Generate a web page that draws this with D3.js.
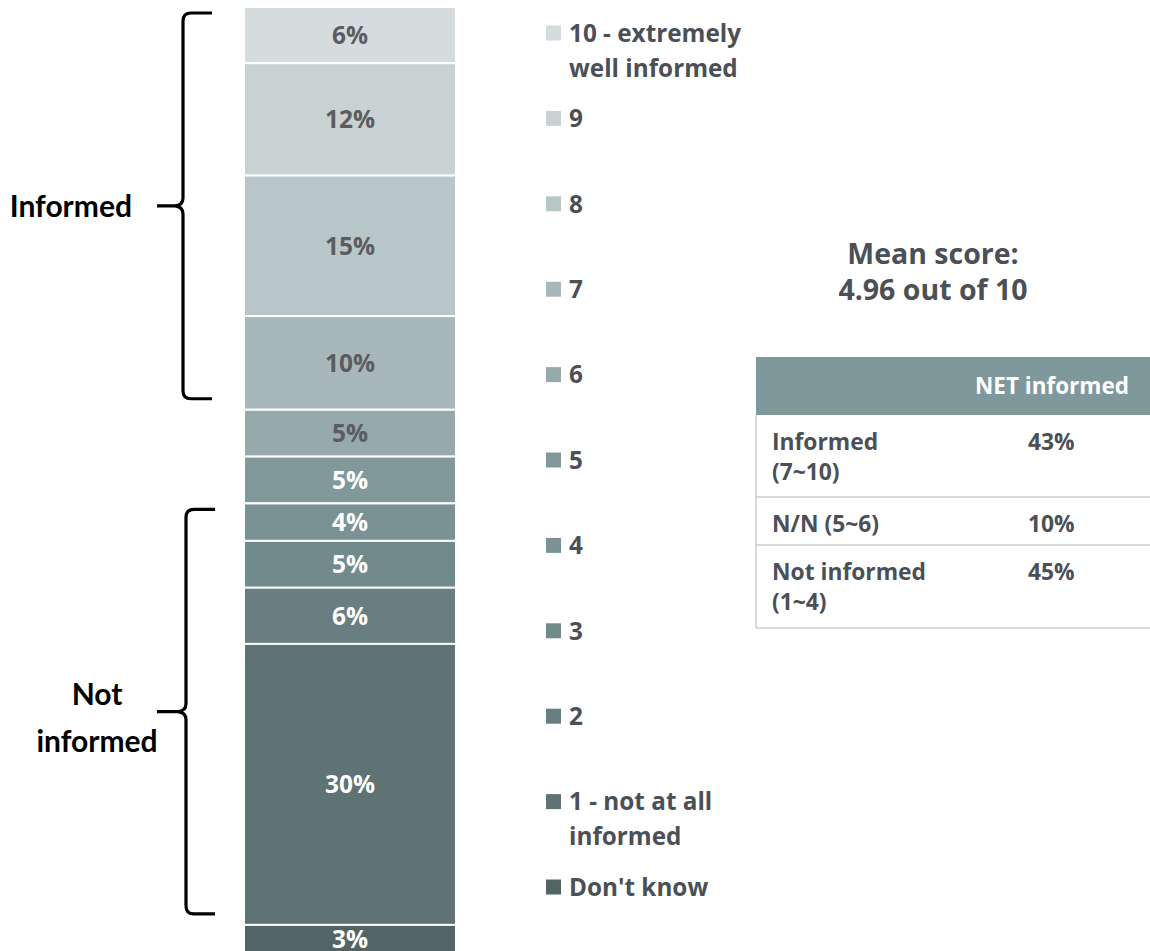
<!DOCTYPE html>
<html>
<head>
<meta charset="utf-8">
<script src="https://cdn.jsdelivr.net/npm/d3@7"></script>
<style>
  html, body { margin: 0; padding: 0; background: #ffffff; }
  svg { display: block; font-family: "Open Sans", "Noto Sans", sans-serif; font-weight: 700; }
  .brace-label { font-family: "Lato", "Open Sans", sans-serif; font-weight: 700; }
</style>
</head>
<body>
<svg id="chart" width="1150" height="951"></svg>
<script>
// Rating scale answers, top of the stack first
const categories = ["10", "9", "8", "7", "6", "5", "4", "3", "2", "1", "Don't know"];
const legendLabels = [
  ["10 - extremely", "well informed"], ["9"], ["8"], ["7"], ["6"], ["5"],
  ["4"], ["3"], ["2"], ["1 - not at all", "informed"], ["Don't know"]
];
const shares = [6, 12, 15, 10, 5, 5, 4, 5, 6, 30, 3];
const segmentColors = ["#d6dcde", "#c9d2d3", "#b9c6c7", "#a8b8ba", "#96aaac",
                       "#81999b", "#7a9294", "#718a8c", "#687e80", "#5f7374", "#536465"];
const darkLabelCount = 5; // the five lightest segments use dark label text

// Bracket groups (by category)
const groups = [
  { name: ["Informed"], from: "10", to: "7" },
  { name: ["Not", "informed"], from: "4", to: "1" }
];

// NET summary table
const netHeader = "NET informed";
const netRows = [["Informed", "(7~10)"], ["N/N (5~6)"], ["Not informed", "(1~4)"]];
const netValues = [43, 10, 45];
const meanScore = 4.96;
const scaleMax = 10;

const svg = d3.select("#chart");
const textDark = "#4b5057";

// Stack from the bottom ("Don't know") upward
const total = d3.sum(shares);
const n = shares.length;
const starts = new Array(n);
let acc = 0;
for (let i = n - 1; i >= 0; i--) { starts[i] = acc; acc += shares[i]; }
const segs = categories.map((c, i) => ({ cat: c, v: shares[i], y0: starts[i], y1: starts[i] + shares[i], i }));

const y = d3.scaleLinear().domain([0, total]).range([953, 7]);
const x = d3.scaleBand().domain(["all"]).range([244, 456]).padding(0);

// Bar segments
const bar = svg.append("g");
bar.selectAll("rect").data(segs).join("rect")
  .attr("x", x("all"))
  .attr("width", x.bandwidth())
  .attr("y", d => y(d.y1))
  .attr("height", d => y(d.y0) - y(d.y1))
  .attr("fill", d => segmentColors[d.i])
  .attr("stroke", "#ffffff")
  .attr("stroke-width", 2);

bar.selectAll("text").data(segs).join("text")
  .attr("x", x("all") + x.bandwidth() / 2)
  .attr("y", d => (y(d.y0) + y(d.y1)) / 2)
  .attr("dy", "0.36em")
  .attr("text-anchor", "middle")
  .attr("font-size", 24.5)
  .attr("fill", d => d.i < darkLabelCount ? "#5c5c5e" : "#ffffff")
  .text(d => d.v + "%");

// Legend
const legendStep = 85.4;
const legend = svg.append("g");
const items = legend.selectAll("g").data(categories).join("g")
  .attr("transform", (d, i) => `translate(546, ${33 + i * legendStep})`);
items.append("rect")
  .attr("x", 0).attr("y", -7.5).attr("width", 15).attr("height", 15)
  .attr("fill", (d, i) => segmentColors[i]);
items.append("text")
  .attr("x", 23)
  .attr("font-size", 24.3)
  .attr("fill", textDark)
  .each(function (d, i) {
    const t = d3.select(this);
    legendLabels[i].forEach((line, k) => {
      t.append("tspan").attr("x", 23).attr("y", k * 35).attr("dy", "0.36em").text(line);
    });
  });

// Curly brackets with group labels
function bracePath(xv, top, bottom, tipX) {
  const mid = (top + bottom) / 2;
  const p = d3.path();
  p.moveTo(xv + 29, top);
  p.lineTo(xv + 8, top);
  p.quadraticCurveTo(xv, top, xv, top + 8);
  p.lineTo(xv, mid - 8);
  p.quadraticCurveTo(xv, mid - 1, xv - 8, mid);
  p.lineTo(tipX, mid);
  p.moveTo(xv - 8, mid);
  p.quadraticCurveTo(xv, mid + 1, xv, mid + 8);
  p.lineTo(xv, bottom - 8);
  p.quadraticCurveTo(xv, bottom, xv + 8, bottom);
  p.lineTo(xv + 29, bottom);
  return p.toString();
}
const brackets = svg.append("g");
groups.forEach((g, gi) => {
  const a = segs.find(s => s.cat === g.from);
  const b = segs.find(s => s.cat === g.to);
  const top = y(a.y1) + 6;
  const bottom = y(b.y0) - 11;
  const xv = gi === 0 ? 183 : 186;
  brackets.append("path")
    .attr("d", bracePath(xv, top, bottom, 157))
    .attr("fill", "none")
    .attr("stroke", "#000000")
    .attr("stroke-width", 3.2)
    .attr("stroke-linejoin", "round");
  const mid = (top + bottom) / 2;
  const lbl = brackets.append("text")
    .attr("class", "brace-label")
    .attr("font-size", 30)
    .attr("fill", "#000000");
  if (g.name.length === 1) {
    lbl.attr("text-anchor", "end")
      .append("tspan").attr("x", 132).attr("y", mid).attr("dy", "0.36em").text(g.name[0]);
  } else {
    lbl.attr("text-anchor", "middle");
    g.name.forEach((line, k) => {
      lbl.append("tspan").attr("x", 97).attr("y", mid - 17 + k * 47).attr("dy", "0.36em").text(line);
    });
  }
});

// Mean score
const mean = svg.append("text")
  .attr("text-anchor", "middle")
  .attr("font-size", 28.5)
  .attr("fill", textDark);
mean.append("tspan").attr("x", 933).attr("y", 254).attr("dy", "0.36em").text("Mean score:");
mean.append("tspan").attr("x", 933).attr("y", 290).attr("dy", "0.36em").text(`${meanScore.toFixed(2)} out of ${scaleMax}`);

// NET table
const table = svg.append("g");
const tLeft = 756, tRight = 1150, headTop = 357, headBottom = 415;
const rowEdges = [headBottom, 497, 545, 628];
const lineCol = "#c6d0d2";
table.append("rect")
  .attr("x", tLeft).attr("y", headTop)
  .attr("width", tRight - tLeft).attr("height", headBottom - headTop)
  .attr("fill", "#7f989b");
table.append("text")
  .attr("x", 975).attr("y", (headTop + headBottom) / 2).attr("dy", "0.36em")
  .attr("font-size", 22.5).attr("fill", "#ffffff")
  .text(netHeader);
table.append("line")
  .attr("x1", tLeft).attr("x2", tLeft)
  .attr("y1", headBottom).attr("y2", rowEdges[3])
  .attr("stroke", lineCol).attr("stroke-width", 1.5);
table.selectAll("line.row").data(rowEdges.slice(1)).join("line")
  .attr("class", "row")
  .attr("x1", tLeft).attr("x2", tRight)
  .attr("y1", d => d).attr("y2", d => d)
  .attr("stroke", lineCol).attr("stroke-width", 1.5);

netRows.forEach((lines, r) => {
  const top = rowEdges[r];
  const t = table.append("text").attr("font-size", 22.8).attr("fill", textDark);
  lines.forEach((line, k) => {
    t.append("tspan").attr("x", 772).attr("y", top + 26.5 + k * 30).attr("dy", "0.36em").text(line);
  });
  table.append("text")
    .attr("x", 1028).attr("y", top + 26.5).attr("dy", "0.36em")
    .attr("font-size", 22.8).attr("fill", textDark)
    .text(netValues[r] + "%");
});
</script>
</body>
</html>
